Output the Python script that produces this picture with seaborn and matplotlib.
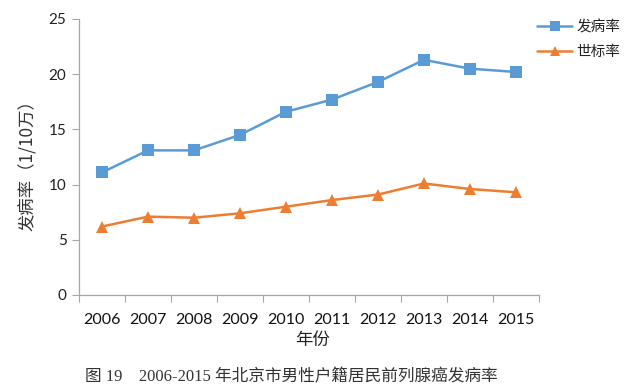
import matplotlib
matplotlib.use("Agg")
import matplotlib.pyplot as plt
import seaborn as sns
import pandas as pd
from matplotlib.ticker import FixedLocator, NullFormatter, FixedFormatter

years = ["2006", "2007", "2008", "2009", "2010", "2011", "2012", "2013", "2014", "2015"]
incidence = [11.1, 13.1, 13.1, 14.5, 16.6, 17.7, 19.3, 21.3, 20.5, 20.2]
asr_world = [6.2, 7.1, 7.0, 7.4, 8.0, 8.6, 9.1, 10.1, 9.6, 9.3]
series_names = ["发病率", "世标率"]
yticks = [0, 5, 10, 15, 20, 25]

sns.set_theme(style="white")
plt.rcParams['font.family'] = ['Lato', 'Noto Sans CJK SC', 'DejaVu Sans']
cjk = ['Noto Sans CJK SC', 'DejaVu Sans']

df = pd.DataFrame({
    "idx": list(range(len(years))) * 2,
    "value": incidence + asr_world,
    "series": [series_names[0]] * len(years) + [series_names[1]] * len(years),
})

fig = plt.figure(figsize=(6.4, 3.88), dpi=100)
ax = fig.add_axes([79/640, 1 - 295/388, 460/640, (295 - 19)/388])

blue = "#5B9BD5"
orange = "#ED7D31"
sns.lineplot(data=df[df.series == series_names[0]], x="idx", y="value", ax=ax,
             color=blue, marker="s", markersize=9, markeredgewidth=0, linewidth=1.8,
             label=series_names[0])
sns.lineplot(data=df[df.series == series_names[1]], x="idx", y="value", ax=ax,
             color=orange, marker="^", markersize=9, markeredgewidth=0, linewidth=1.8,
             label=series_names[1])

ax.set_xlim(-0.5, len(years) - 0.5)
ax.set_ylim(0, 25)
ax.set_yticks(yticks)
ax.set_yticklabels([str(v) for v in yticks], fontsize=11, color="#222222")
ax.xaxis.set_major_locator(FixedLocator([i - 0.5 for i in range(len(years) + 1)]))
ax.xaxis.set_major_formatter(NullFormatter())
ax.xaxis.set_minor_locator(FixedLocator(list(range(len(years)))))
ax.xaxis.set_minor_formatter(FixedFormatter(years))
ax.tick_params(axis="x", which="major", length=5, width=0.8, color="#A6A6A6", direction="out", bottom=True)
ax.tick_params(axis="x", which="minor", length=0, labelsize=11.5, labelcolor="#111111", pad=13)
ax.tick_params(axis="y", length=5, width=0.8, color="#A6A6A6", direction="out", left=True, pad=4)

for s in ["top", "right"]:
    ax.spines[s].set_visible(False)
for s in ["left", "bottom"]:
    ax.spines[s].set_color("#A6A6A6")
    ax.spines[s].set_linewidth(0.9)

ax.set_xlabel("")
ax.set_ylabel("")
fig.text(28/640, 1 - 161/388, "发病率（1/10万）", rotation=90, ha="center", va="center",
         fontsize=12.5, family=cjk, color="#333333")
fig.text(313/640, 1 - 340/388, "年份", ha="center", va="center", fontsize=12.5,
         family=cjk, color="#222222")
fig.text(85/640, 1 - 377/388, "图 19    2006-2015 年北京市男性户籍居民前列腺癌发病率",
         ha="left", va="center", fontsize=12, family=['Liberation Serif', 'Noto Sans CJK SC'],
         color="#333333")

leg = ax.legend(loc="upper left", bbox_to_anchor=(524/640, 1 - 7/388),
                bbox_transform=fig.transFigure, frameon=False,
                handlelength=2.4, labelspacing=0.75, handletextpad=0.3,
                prop={'family': cjk, 'size': 10.5})
for h in leg.legend_handles:
    h.set_markersize(7)
for t in leg.get_texts():
    t.set_color("#222222")

fig.savefig("out.png", dpi=100)
